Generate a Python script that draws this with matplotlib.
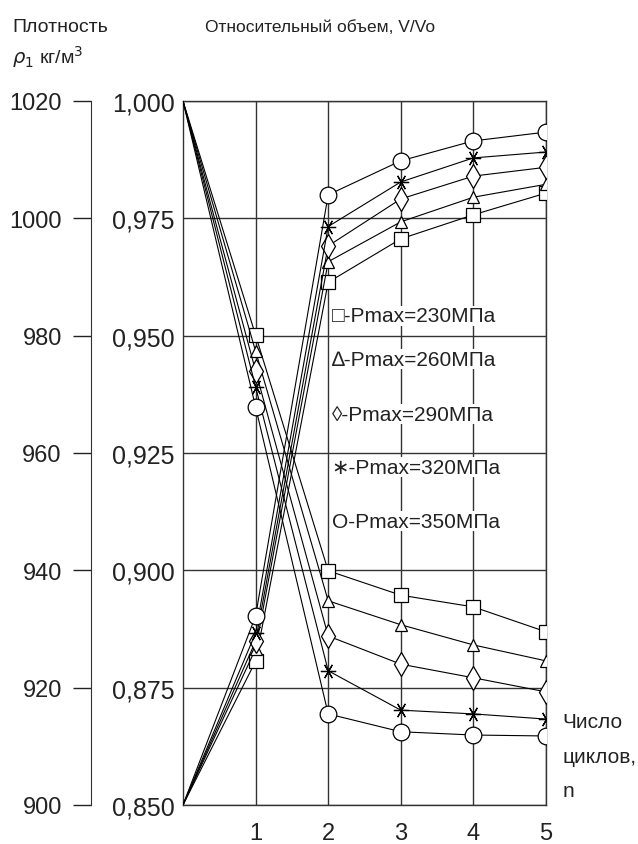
import numpy as np
import matplotlib.pyplot as plt
from matplotlib.ticker import FuncFormatter

plt.rcParams['font.family'] = ['Liberation Sans', 'DejaVu Sans']

n = [0, 1, 2, 3, 4, 5]

# относительный объем V/Vo (падающие кривые)
vol_230 = [1.000, 0.9501, 0.8999, 0.8947, 0.8922, 0.8869]
vol_260 = [1.000, 0.9467, 0.8935, 0.8884, 0.8841, 0.8807]
vol_290 = [1.000, 0.9425, 0.8860, 0.8800, 0.8771, 0.8741]
vol_320 = [1.000, 0.9391, 0.8786, 0.8702, 0.8694, 0.8683]
vol_350 = [1.000, 0.9348, 0.8694, 0.8656, 0.8649, 0.8647]

# плотность, кг/м3 (растущие кривые)
rho_230 = [900, 924.5, 989.1, 996.5, 1000.6, 1004.3]
rho_260 = [900, 926.6, 992.6, 999.4, 1003.6, 1005.8]
rho_290 = [900, 927.9, 995.3, 1003.3, 1007.2, 1008.7]
rho_320 = [900, 929.3, 998.6, 1006.2, 1010.3, 1011.3]
rho_350 = [900, 932.2, 1004.0, 1009.8, 1013.2, 1014.7]

labels = ['□-Pmax=230МПа', '∆-Pmax=260МПа', '◊-Pmax=290МПа', '∗-Pmax=320МПа', 'O-Pmax=350МПа']
markers = ['s', '^', 'd', (6, 2, 90), 'o']
msizes = [10, 8, 12, 11, 12]

vols = [vol_230, vol_260, vol_290, vol_320, vol_350]
rhos = [rho_230, rho_260, rho_290, rho_320, rho_350]

fig = plt.figure(figsize=(6.38, 8.45), dpi=100)
ax = fig.add_axes([0.2868, 0.0462, 0.569, 0.8331])
ax.set_xlim(0, 5)
ax.set_ylim(0.85, 1.0)
ax.set_xticks([1, 2, 3, 4, 5])
ax.set_yticks(np.arange(0.85, 1.0001, 0.025))
ax.yaxis.set_major_formatter(FuncFormatter(lambda v, p: f'{v:.3f}'.replace('.', ',')))
ax.tick_params(axis='both', length=0, labelsize=17, colors='#222222')
ax.tick_params(axis='y', labelsize=18, pad=6)
ax.tick_params(axis='x', pad=12)
ax.grid(True, color='#333333', lw=1.0)
for s in ax.spines.values():
    s.set_color('#333333')
    s.set_linewidth(1.0)

ax2 = ax.twinx()
ax2.set_ylim(900, 1020)
ax2.set_yticks(np.arange(900, 1021, 20))
ax2.yaxis.set_ticks_position('left')
ax2.spines['left'].set_position(('axes', -0.2534))
ax2.spines['left'].set_color('#333333')
for k in ['right', 'top', 'bottom']:
    ax2.spines[k].set_visible(False)
ax2.tick_params(axis='y', direction='out', length=13, width=1.0, pad=8, labelsize=17, colors='#222222')

for v, r, m, ms in zip(vols, rhos, markers, msizes):
    ax.plot(n, v, color='black', lw=0.8, marker=m, ms=ms, mfc='white', mec='black',
            mew=0.9, markevery=[1, 2, 3, 4, 5], zorder=3)
    ax2.plot(n, r, color='black', lw=0.8, marker=m, ms=ms, mfc='white', mec='black',
             mew=0.9, markevery=[1, 2, 3, 4, 5], zorder=3)

leg_y = [0.9542, 0.9450, 0.9333, 0.9220, 0.9105]
for lab, yy in zip(labels, leg_y):
    ax.text(2.05, yy, lab, fontsize=15, va='center', ha='left', color='#222222',
            bbox=dict(facecolor='white', edgecolor='none', pad=0.5), zorder=4)

fig.text(0.019, 0.968, 'Плотность', fontsize=14, va='center', ha='left', color='#222222')
fig.text(0.019, 0.932, r'$\rho_1$ кг/м$^3$', fontsize=14, va='center', ha='left', color='#222222')
fig.text(0.321, 0.968, 'Относительный объем, V/Vo', fontsize=12.5, va='center', ha='left', color='#222222')
fig.text(0.882, 0.104, 'Число\nциклов,\nn', fontsize=15, va='center', ha='left',
         linespacing=2.05, color='#222222')

fig.savefig('out.png', dpi=100)
